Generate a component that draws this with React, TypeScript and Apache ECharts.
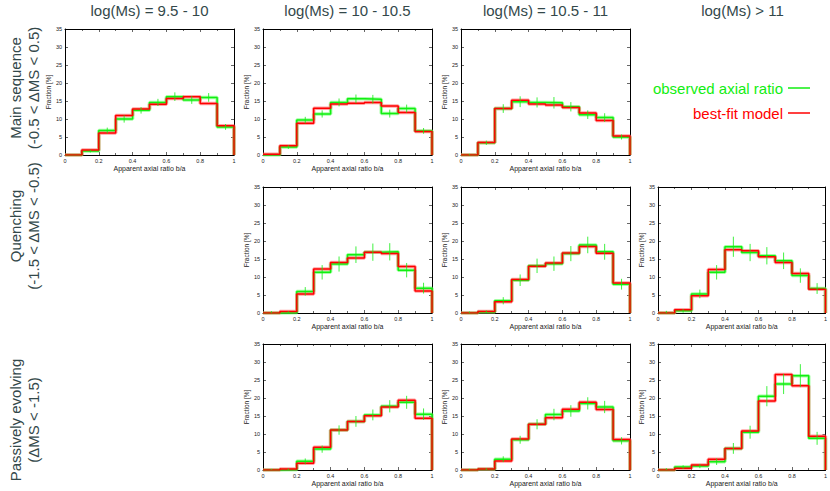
import React, { useEffect, useRef } from 'react';
import * as echarts from 'echarts';

// ---------- data ----------
const binEdges = [0, 0.1, 0.2, 0.3, 0.4, 0.5, 0.6, 0.7, 0.8, 0.9, 1.0];
const binCenters = [0.05, 0.15, 0.25, 0.35, 0.45, 0.55, 0.65, 0.75, 0.85, 0.95];

const columnTitles = ['log(Ms) = 9.5 - 10', 'log(Ms) = 10 - 10.5', 'log(Ms) = 10.5 - 11', 'log(Ms) > 11'];
const rowTitles = [
  ['Main sequence', '(-0.5 < \u0394MS < 0.5)'],
  ['Quenching', '(-1.5 < \u0394MS < -0.5)'],
  ['Passively evolving', '(\u0394MS < -1.5)'],
];
const xTickLabels = ['0', '0.2', '0.4', '0.6', '0.8', '1'];
const legendNames = ['observed axial ratio', 'best-fit model'];

// Main sequence
const msObs95 = [0, 1.1, 6.8, 10.0, 12.4, 14.6, 16.2, 15.3, 16.0, 7.8];
const msErr95 = [0, 0.4, 0.8, 1.0, 0.9, 1.0, 1.2, 1.1, 1.2, 0.8];
const msMod95 = [0, 1.4, 6.1, 11.0, 12.8, 14.1, 15.7, 16.2, 14.3, 8.1];

const msObs100 = [0, 2.2, 9.7, 11.4, 14.6, 15.6, 15.5, 11.5, 12.9, 6.7];
const msErr100 = [0, 0.5, 0.9, 1.0, 1.1, 1.2, 1.2, 1.1, 1.1, 0.8];
const msMod100 = [0.2, 2.6, 8.8, 13.0, 14.2, 14.4, 14.6, 13.6, 11.8, 6.5];

const msObs105 = [0, 3.4, 12.9, 14.8, 14.6, 14.5, 13.4, 11.2, 10.4, 5.0];
const msErr105 = [0.3, 0.6, 1.2, 1.5, 1.4, 1.6, 1.3, 1.2, 1.2, 0.7];
const msMod105 = [0, 3.5, 12.9, 15.2, 14.2, 13.9, 13.2, 11.7, 9.6, 5.3];

// Quenching
const qObs100 = [0, 0.1, 6.0, 11.3, 13.6, 16.2, 16.9, 17.0, 11.9, 6.9];
const qErr100 = [0.5, 0.4, 1.2, 2.0, 2.1, 2.3, 2.4, 2.4, 2.0, 1.5];
const qMod100 = [0, 0.4, 5.3, 12.2, 14.0, 15.3, 16.9, 16.5, 12.9, 6.1];

const qObs105 = [0, 0.3, 3.4, 9.1, 13.1, 13.7, 16.5, 18.9, 17.0, 8.0];
const qErr105 = [0.4, 0.4, 1.0, 1.6, 2.0, 2.0, 2.1, 2.3, 2.2, 1.5];
const qMod105 = [0, 0.4, 3.1, 9.3, 13.0, 13.9, 16.7, 18.5, 16.6, 8.3];

const qObs110 = [0, 0.6, 5.3, 11.3, 18.4, 16.8, 15.9, 14.5, 10.4, 6.8];
const qErr110 = [0.6, 0.5, 1.2, 2.0, 2.8, 2.4, 2.4, 2.3, 2.0, 1.5];
const qMod110 = [0, 0.9, 4.8, 12.1, 17.6, 17.3, 15.6, 14.0, 11.0, 6.6];

// Passively evolving
const pObs100 = [0, 0.1, 2.4, 5.8, 11.1, 13.5, 15.3, 17.7, 18.8, 15.5];
const pErr100 = [0.3, 0.3, 0.8, 1.0, 1.3, 1.5, 1.5, 1.7, 1.8, 1.6];
const pMod100 = [0, 0.3, 1.9, 6.3, 11.1, 13.5, 15.1, 17.5, 19.4, 14.4];

const pObs105 = [0, 0.2, 3.0, 8.4, 12.7, 15.4, 16.4, 18.5, 17.5, 8.1];
const pErr105 = [0.3, 0.3, 0.8, 1.1, 1.4, 1.6, 1.6, 1.7, 1.7, 1.0];
const pMod105 = [0, 0.3, 2.5, 8.6, 12.7, 14.5, 16.9, 18.8, 16.8, 8.5];

const pObs110 = [0, 0.8, 1.1, 2.3, 6.0, 10.5, 20.5, 23.9, 26.2, 8.8];
const pErr110 = [0.5, 0.5, 0.6, 0.9, 1.5, 1.8, 2.8, 2.8, 3.2, 1.8];
const pMod110 = [0, 0.5, 1.4, 3.0, 6.0, 10.8, 19.2, 26.5, 23.4, 9.4];

const panels = [
  { row: 0, col: 0, obs: msObs95, err: msErr95, model: msMod95 },
  { row: 0, col: 1, obs: msObs100, err: msErr100, model: msMod100 },
  { row: 0, col: 2, obs: msObs105, err: msErr105, model: msMod105 },
  { row: 1, col: 1, obs: qObs100, err: qErr100, model: qMod100 },
  { row: 1, col: 2, obs: qObs105, err: qErr105, model: qMod105 },
  { row: 1, col: 3, obs: qObs110, err: qErr110, model: qMod110 },
  { row: 2, col: 1, obs: pObs100, err: pErr100, model: pMod100 },
  { row: 2, col: 2, obs: pObs105, err: pErr105, model: pMod105 },
  { row: 2, col: 3, obs: pObs110, err: pErr110, model: pMod110 },
];

// ---------- layout ----------
const FONT = '"Liberation Sans", Arial, Helvetica, sans-serif';
const COL_LEFT = [65, 263, 461, 658];
const ROW_TOP = [29, 187, 344];
const PW = 169;
const PH = 126;
const GREEN = '#11ee11';
const GREEN_LIGHT = 'rgba(90,255,90,0.55)';
const RED = '#ff0000';
const RED_LIGHT = 'rgba(255,90,90,0.55)';
const TITLE_COLOR = '#33484a';
const AXIS_TEXT = '#222222';

function stepPoints(values: number[]) {
  const pts: number[][] = [];
  values.forEach((v, i) => {
    pts.push([binEdges[i], v]);
    pts.push([binEdges[i + 1], v]);
  });
  pts.push([binEdges[binEdges.length - 1], 0]);
  return pts;
}

function buildOption() {
  const grid: any[] = [];
  const xAxis: any[] = [];
  const yAxis: any[] = [];
  const series: any[] = [];

  panels.forEach((p, i) => {
    grid.push({ left: COL_LEFT[p.col], top: ROW_TOP[p.row], width: PW, height: PH, containLabel: false });
    const baseX = {
      type: 'value', gridIndex: i, min: 0, max: 1, interval: 0.2,
      splitLine: { show: false },
      axisLine: { show: true, onZero: false, lineStyle: { color: '#000', width: 1 } },
      axisTick: { show: true, inside: true, length: 3, lineStyle: { color: '#000', width: 0.6 } },
      minorTick: { show: true, splitNumber: 2, length: 2, lineStyle: { color: '#000', width: 0.6 } },
    };
    xAxis.push({
      ...baseX, position: 'bottom',
      axisLabel: {
        show: true, fontSize: 5.5, margin: 3, color: AXIS_TEXT, fontFamily: FONT,
        formatter: (v: number) => xTickLabels[Math.round(v / 0.2)] ?? '',
      },
      name: 'Apparent axial ratio b/a', nameLocation: 'middle', nameGap: 10,
      nameTextStyle: { fontSize: 7, color: AXIS_TEXT, fontFamily: FONT },
    });
    xAxis.push({ ...baseX, position: 'top', axisLabel: { show: false } });
    const baseY = {
      type: 'value', gridIndex: i, min: 0, max: 35, interval: 5,
      splitLine: { show: false },
      axisLine: { show: true, onZero: false, lineStyle: { color: '#000', width: 1 } },
      axisTick: { show: true, inside: true, length: 3, lineStyle: { color: '#000', width: 0.6 } },
    };
    yAxis.push({
      ...baseY, position: 'left',
      axisLabel: { show: true, fontSize: 5.5, margin: 3, color: AXIS_TEXT, fontFamily: FONT },
      name: 'Fraction [%]', nameLocation: 'middle', nameGap: 13,
      nameTextStyle: { fontSize: 6.5, color: AXIS_TEXT, fontFamily: FONT },
    });
    yAxis.push({ ...baseY, position: 'right', axisLabel: { show: false } });

    const xi = i * 2;
    const yi = i * 2;
    const common = {
      type: 'line', xAxisIndex: xi, yAxisIndex: yi, symbol: 'none', showSymbol: false,
      silent: true, clip: true,
    };
    series.push({ ...common, name: 'obs-band', data: stepPoints(p.obs), lineStyle: { color: GREEN_LIGHT, width: 3.5 }, z: 2 });
    series.push({ ...common, name: 'model-band', data: stepPoints(p.model), lineStyle: { color: RED_LIGHT, width: 3.5 }, z: 2 });
    series.push({ ...common, name: legendNames[0], data: stepPoints(p.obs), lineStyle: { color: GREEN, width: 1.5 }, itemStyle: { color: GREEN }, z: 3 });
    series.push({ ...common, name: legendNames[1], data: stepPoints(p.model), lineStyle: { color: RED, width: 1.5 }, itemStyle: { color: RED }, z: 4 });
    series.push({
      type: 'custom', name: 'errors', xAxisIndex: xi, yAxisIndex: yi, silent: true, clip: true, z: 5,
      data: binCenters.map((c, k) => [c, p.obs[k], p.err[k]]),
      encode: { x: 0, y: 1 },
      renderItem: (params: any, api: any) => {
        const x = api.value(0);
        const y = api.value(1);
        const e = api.value(2);
        const a = api.coord([x, y - e]);
        const b = api.coord([x, y + e]);
        return {
          type: 'line',
          shape: { x1: a[0], y1: a[1], x2: b[0], y2: b[1] },
          style: { stroke: GREEN, lineWidth: 1, opacity: 0.8 },
        };
      },
    });
  });

  const graphic: any[] = [];
  columnTitles.forEach((t, c) => {
    graphic.push({
      type: 'text', x: COL_LEFT[c] + PW / 2, y: 10,
      style: { text: t, textAlign: 'center', textVerticalAlign: 'middle', font: `15px ${FONT}`, fill: TITLE_COLOR },
    });
  });
  const rowCenters = [88, 226, 420];
  const lineX = [15, 33];
  rowTitles.forEach((lines, r) => {
    lines.forEach((t, k) => {
      graphic.push({
        type: 'text', x: lineX[k], y: rowCenters[r], rotation: Math.PI / 2,
        style: { text: t, textAlign: 'center', textVerticalAlign: 'middle', font: `15px ${FONT}`, fill: TITLE_COLOR },
      });
    });
  });

  return {
    animation: false,
    textStyle: { fontFamily: FONT },
    grid, xAxis, yAxis, series, graphic,
    legend: {
      data: [
        { name: legendNames[0], icon: 'rect', itemStyle: { color: GREEN }, textStyle: { color: GREEN } },
        { name: legendNames[1], icon: 'rect', itemStyle: { color: RED }, textStyle: { color: RED } },
      ],
      orient: 'vertical', align: 'right', right: 15, top: 75,
      itemGap: 9, itemWidth: 22, itemHeight: 1.5, selectedMode: false,
      textStyle: { fontSize: 15, fontFamily: FONT, lineHeight: 16 },
    },
  };
}

export default function App() {
  const ref = useRef<HTMLDivElement>(null);
  useEffect(() => {
    if (!ref.current) return;
    const chart = echarts.init(ref.current, undefined, { renderer: 'svg' });
    chart.setOption(buildOption() as any);
    return () => chart.dispose();
  }, []);
  return (
    <div
      ref={ref}
      style={{ position: 'fixed', left: 0, top: 0, width: 830, height: 491, background: '#fff' }}
    />
  );
}
